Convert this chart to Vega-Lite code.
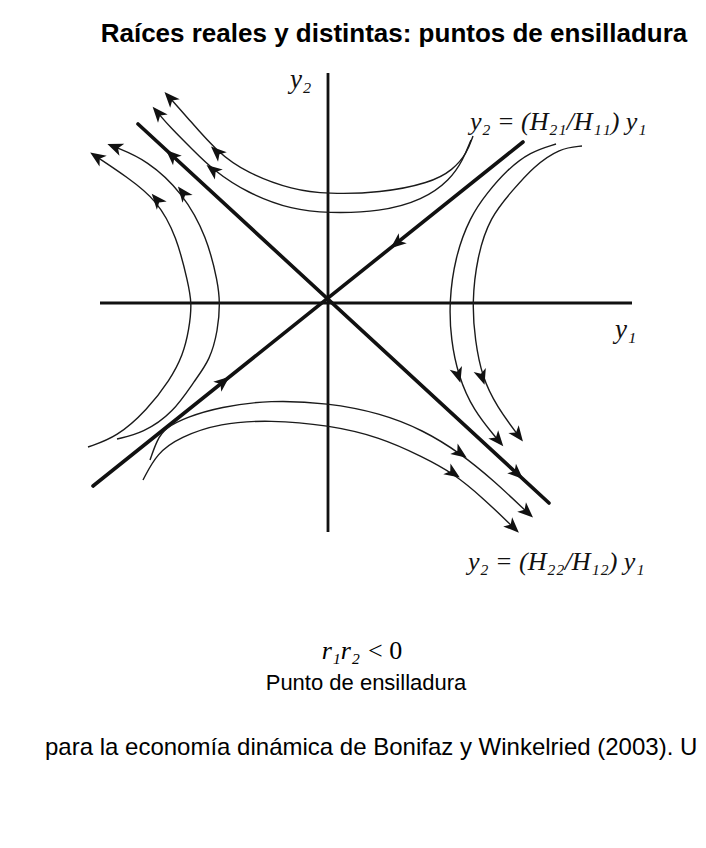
{
  "$schema": "https://vega.github.io/schema/vega-lite/v6.json",
  "width": 706,
  "height": 848,
  "autosize": {"type": "none"},
  "padding": 0,
  "background": "white",
  "config": {"view": {"stroke": null}},
  "datasets": {
    "axes": [
      {"y1": -4.56, "y2": 0, "y1end": 6.08, "y2end": 0},
      {"y1": 0, "y2": 4.6, "y1end": 0, "y2end": -4.58}
    ],
    "manifolds": [
      {"arm": "stable", "y1": -4.7, "y2": -3.66, "y1end": 3.9, "y2end": 3.22},
      {"arm": "unstable", "y1": -3.8, "y2": 3.58, "y1end": 4.42, "y2end": -4.0}
    ],
    "paths": [
      {"curve": "T1", "i": 0, "y1": 2.9, "y2": 3.34},
      {"curve": "T1", "i": 1, "y1": 2.78, "y2": 3.0},
      {"curve": "T1", "i": 2, "y1": 2.5, "y2": 2.66},
      {"curve": "T1", "i": 3, "y1": 2.04, "y2": 2.4},
      {"curve": "T1", "i": 4, "y1": 1.04, "y2": 2.2},
      {"curve": "T1", "i": 5, "y1": 0, "y2": 2.18},
      {"curve": "T1", "i": 6, "y1": -0.7, "y2": 2.26},
      {"curve": "T1", "i": 7, "y1": -1.62, "y2": 2.6},
      {"curve": "T1", "i": 8, "y1": -2.22, "y2": 3.02},
      {"curve": "T1", "i": 9, "y1": -2.82, "y2": 3.72},
      {"curve": "T1", "i": 10, "y1": -3.16, "y2": 4.1},

      {"curve": "T2", "i": 0, "y1": 2.86, "y2": 3.26},
      {"curve": "T2", "i": 1, "y1": 2.7, "y2": 2.86},
      {"curve": "T2", "i": 2, "y1": 2.44, "y2": 2.46},
      {"curve": "T2", "i": 3, "y1": 1.9, "y2": 2.06},
      {"curve": "T2", "i": 4, "y1": 1.04, "y2": 1.82},
      {"curve": "T2", "i": 5, "y1": 0, "y2": 1.8},
      {"curve": "T2", "i": 6, "y1": -0.7, "y2": 1.86},
      {"curve": "T2", "i": 7, "y1": -1.62, "y2": 2.2},
      {"curve": "T2", "i": 8, "y1": -2.3, "y2": 2.66},
      {"curve": "T2", "i": 9, "y1": -2.7, "y2": 3.06},
      {"curve": "T2", "i": 10, "y1": -3.16, "y2": 3.52},
      {"curve": "T2", "i": 11, "y1": -3.4, "y2": 3.8},

      {"curve": "L1", "i": 0, "y1": -4.8, "y2": -2.88},
      {"curve": "L1", "i": 1, "y1": -4.22, "y2": -2.68},
      {"curve": "L1", "i": 2, "y1": -3.62, "y2": -2.14},
      {"curve": "L1", "i": 3, "y1": -3.16, "y2": -1.54},
      {"curve": "L1", "i": 4, "y1": -2.9, "y2": -1.04},
      {"curve": "L1", "i": 5, "y1": -2.78, "y2": -0.54},
      {"curve": "L1", "i": 6, "y1": -2.72, "y2": 0},
      {"curve": "L1", "i": 7, "y1": -2.8, "y2": 0.4},
      {"curve": "L1", "i": 8, "y1": -3.02, "y2": 1.32},
      {"curve": "L1", "i": 9, "y1": -3.42, "y2": 2.06},
      {"curve": "L1", "i": 10, "y1": -4.02, "y2": 2.52},
      {"curve": "L1", "i": 11, "y1": -4.62, "y2": 2.92},

      {"curve": "L2", "i": 0, "y1": -4.22, "y2": -2.72},
      {"curve": "L2", "i": 1, "y1": -3.7, "y2": -2.6},
      {"curve": "L2", "i": 2, "y1": -3.1, "y2": -2.2},
      {"curve": "L2", "i": 3, "y1": -2.66, "y2": -1.54},
      {"curve": "L2", "i": 4, "y1": -2.36, "y2": -1.14},
      {"curve": "L2", "i": 5, "y1": -2.2, "y2": -0.54},
      {"curve": "L2", "i": 6, "y1": -2.16, "y2": 0},
      {"curve": "L2", "i": 7, "y1": -2.2, "y2": 0.4},
      {"curve": "L2", "i": 8, "y1": -2.42, "y2": 1.32},
      {"curve": "L2", "i": 9, "y1": -2.9, "y2": 2.2},
      {"curve": "L2", "i": 10, "y1": -3.62, "y2": 2.86},
      {"curve": "L2", "i": 11, "y1": -4.26, "y2": 3.12},

      {"curve": "B1", "i": 0, "y1": -3.56, "y2": -3.14},
      {"curve": "B1", "i": 1, "y1": -3.42, "y2": -2.74},
      {"curve": "B1", "i": 2, "y1": -3.26, "y2": -2.5},
      {"curve": "B1", "i": 3, "y1": -2.82, "y2": -2.28},
      {"curve": "B1", "i": 4, "y1": -2.16, "y2": -2.08},
      {"curve": "B1", "i": 5, "y1": -1.16, "y2": -1.94},
      {"curve": "B1", "i": 6, "y1": 0, "y2": -2.0},
      {"curve": "B1", "i": 7, "y1": 1.04, "y2": -2.2},
      {"curve": "B1", "i": 8, "y1": 1.9, "y2": -2.54},
      {"curve": "B1", "i": 9, "y1": 2.64, "y2": -3.0},
      {"curve": "B1", "i": 10, "y1": 3.3, "y2": -3.54},
      {"curve": "B1", "i": 11, "y1": 3.98, "y2": -4.18},

      {"curve": "B2", "i": 0, "y1": -3.7, "y2": -3.54},
      {"curve": "B2", "i": 1, "y1": -3.42, "y2": -3.0},
      {"curve": "B2", "i": 2, "y1": -2.96, "y2": -2.68},
      {"curve": "B2", "i": 3, "y1": -2.16, "y2": -2.4},
      {"curve": "B2", "i": 4, "y1": -1.16, "y2": -2.34},
      {"curve": "B2", "i": 5, "y1": 0, "y2": -2.44},
      {"curve": "B2", "i": 6, "y1": 1.04, "y2": -2.68},
      {"curve": "B2", "i": 7, "y1": 1.9, "y2": -3.08},
      {"curve": "B2", "i": 8, "y1": 2.5, "y2": -3.4},
      {"curve": "B2", "i": 9, "y1": 3.1, "y2": -3.9},
      {"curve": "B2", "i": 10, "y1": 3.7, "y2": -4.48},

      {"curve": "R1", "i": 0, "y1": 4.56, "y2": 3.18},
      {"curve": "R1", "i": 1, "y1": 4.04, "y2": 3.02},
      {"curve": "R1", "i": 2, "y1": 3.58, "y2": 2.66},
      {"curve": "R1", "i": 3, "y1": 3.18, "y2": 2.2},
      {"curve": "R1", "i": 4, "y1": 2.84, "y2": 1.72},
      {"curve": "R1", "i": 5, "y1": 2.54, "y2": 0.92},
      {"curve": "R1", "i": 6, "y1": 2.42, "y2": 0},
      {"curve": "R1", "i": 7, "y1": 2.46, "y2": -0.74},
      {"curve": "R1", "i": 8, "y1": 2.6, "y2": -1.44},
      {"curve": "R1", "i": 9, "y1": 2.9, "y2": -2.14},
      {"curve": "R1", "i": 10, "y1": 3.4, "y2": -2.74},

      {"curve": "R2", "i": 0, "y1": 5.08, "y2": 3.14},
      {"curve": "R2", "i": 1, "y1": 4.64, "y2": 3.1},
      {"curve": "R2", "i": 2, "y1": 4.1, "y2": 2.72},
      {"curve": "R2", "i": 3, "y1": 3.7, "y2": 2.26},
      {"curve": "R2", "i": 4, "y1": 3.24, "y2": 1.72},
      {"curve": "R2", "i": 5, "y1": 2.98, "y2": 0.92},
      {"curve": "R2", "i": 6, "y1": 2.88, "y2": 0},
      {"curve": "R2", "i": 7, "y1": 2.94, "y2": -0.74},
      {"curve": "R2", "i": 8, "y1": 3.08, "y2": -1.48},
      {"curve": "R2", "i": 9, "y1": 3.38, "y2": -2.08},
      {"curve": "R2", "i": 10, "y1": 3.8, "y2": -2.64}
    ],
    "arrows": [
      {"y1": -3.16, "y2": 4.1, "heading": 318},
      {"y1": -3.4, "y2": 3.8, "heading": 319},
      {"y1": -2.22, "y2": 3.02, "heading": 313},
      {"y1": -2.3, "y2": 2.66, "heading": 308},
      {"y1": -4.62, "y2": 2.92, "heading": 304},
      {"y1": -4.26, "y2": 3.12, "heading": 292},
      {"y1": -3.42, "y2": 2.06, "heading": 320},
      {"y1": -2.9, "y2": 2.2, "heading": 322},
      {"y1": 2.6, "y2": -1.44, "heading": 163},
      {"y1": 3.08, "y2": -1.48, "heading": 162},
      {"y1": 3.4, "y2": -2.74, "heading": 140},
      {"y1": 3.8, "y2": -2.64, "heading": 143},
      {"y1": 2.64, "y2": -3.0, "heading": 125},
      {"y1": 2.5, "y2": -3.4, "heading": 124},
      {"y1": 3.98, "y2": -4.18, "heading": 133},
      {"y1": 3.7, "y2": -4.48, "heading": 134},
      {"y1": 1.38, "y2": 1.2, "heading": 231},
      {"y1": -2.1, "y2": -1.58, "heading": 51},
      {"y1": -3.12, "y2": 2.95, "heading": 313},
      {"y1": 3.78, "y2": -3.41, "heading": 133}
    ],
    "axisLabels": [
      {"y1": -0.76, "y2": 4.3, "text": "y₂"},
      {"y1": 5.74, "y2": -0.7, "text": "y₁"}
    ],
    "lineLabels": [
      {"y1": 2.84, "y2": 3.46, "text": "y₂ = (H₂₁/H₁₁) y₁"},
      {"y1": 2.8, "y2": -5.34, "text": "y₂ = (H₂₂/H₁₂) y₁"}
    ],
    "heading": [
      {"y1": 1.32, "y2": 5.22, "text": "Raíces reales y distintas: puntos de ensilladura"}
    ],
    "condition": [
      {"y1": 0.64, "y2": -7.12, "lhs": "r₁r₂", "rhs": "< 0"}
    ],
    "caption": [
      {"y1": 0.76, "y2": -7.74, "text": "Punto de ensilladura"}
    ],
    "source": [
      {"y1": -5.66, "y2": -9.04, "text": "para la economía dinámica de Bonifaz y Winkelried (2003). U"}
    ]
  },
  "encoding": {
    "x": {"field": "y1", "type": "quantitative", "scale": {"domain": [-6.56, 7.56], "nice": false, "zero": false}, "axis": null},
    "y": {"field": "y2", "type": "quantitative", "scale": {"domain": [-10.9, 6.06], "nice": false, "zero": false}, "axis": null}
  },
  "layer": [
    {
      "data": {"name": "axes"},
      "mark": {"type": "rule", "color": "#111111", "strokeWidth": 2.8},
      "encoding": {"x2": {"field": "y1end"}, "y2": {"field": "y2end"}}
    },
    {
      "data": {"name": "manifolds"},
      "mark": {"type": "rule", "color": "#111111", "strokeWidth": 3.6, "strokeCap": "round"},
      "encoding": {"x2": {"field": "y1end"}, "y2": {"field": "y2end"}}
    },
    {
      "data": {"name": "paths"},
      "mark": {"type": "line", "color": "#1a1a1a", "strokeWidth": 1.4, "interpolate": "basis"},
      "encoding": {
        "detail": {"field": "curve", "type": "nominal"},
        "order": {"field": "i", "type": "quantitative"}
      }
    },
    {
      "data": {"name": "arrows"},
      "mark": {"type": "point", "filled": true, "color": "#111111", "opacity": 1, "size": 270, "shape": "M0,-1L0.78,0.9L0,0.4L-0.78,0.9Z"},
      "encoding": {"angle": {"field": "heading", "type": "quantitative", "scale": null}}
    },
    {
      "data": {"name": "axisLabels"},
      "mark": {"type": "text", "align": "left", "baseline": "alphabetic", "font": "Liberation Serif", "fontStyle": "italic", "fontSize": 27, "color": "#111111"},
      "encoding": {"text": {"field": "text"}}
    },
    {
      "data": {"name": "lineLabels"},
      "mark": {"type": "text", "align": "left", "baseline": "alphabetic", "font": "Liberation Serif", "fontStyle": "italic", "fontSize": 26, "color": "#111111"},
      "encoding": {"text": {"field": "text"}}
    },
    {
      "data": {"name": "heading"},
      "mark": {"type": "text", "align": "center", "baseline": "alphabetic", "font": "Liberation Sans", "fontWeight": "bold", "fontSize": 26, "color": "#000000"},
      "encoding": {"text": {"field": "text"}}
    },
    {
      "data": {"name": "condition"},
      "mark": {"type": "text", "align": "right", "baseline": "alphabetic", "font": "Liberation Serif", "fontStyle": "italic", "fontSize": 26, "color": "#000000"},
      "encoding": {"text": {"field": "lhs"}}
    },
    {
      "data": {"name": "condition"},
      "mark": {"type": "text", "align": "left", "baseline": "alphabetic", "dx": 8, "font": "Liberation Serif", "fontSize": 26, "color": "#000000"},
      "encoding": {"text": {"field": "rhs"}}
    },
    {
      "data": {"name": "caption"},
      "mark": {"type": "text", "align": "center", "baseline": "alphabetic", "font": "Liberation Sans", "fontSize": 22, "color": "#000000"},
      "encoding": {"text": {"field": "text"}}
    },
    {
      "data": {"name": "source"},
      "mark": {"type": "text", "align": "left", "baseline": "alphabetic", "font": "Liberation Sans", "fontSize": 24, "color": "#000000"},
      "encoding": {"text": {"field": "text"}}
    }
  ]
}
